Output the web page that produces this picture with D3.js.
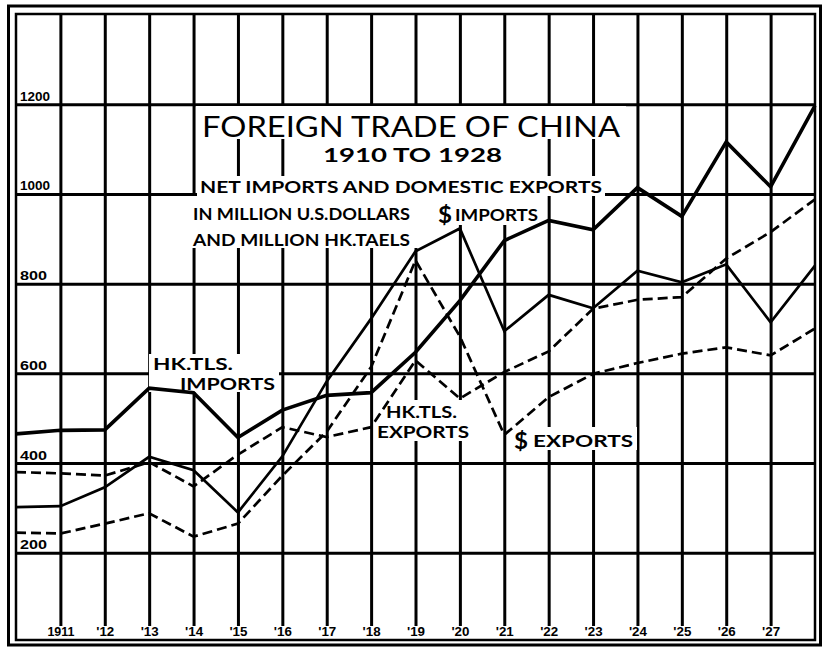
<!DOCTYPE html>
<html>
<head>
<meta charset="utf-8">
<script src="https://cdn.jsdelivr.net/npm/d3@7/dist/d3.min.js"></script>
<style>
  body { margin: 0; background: #fff; }
  svg { display: block; font-family: Lato, 'DejaVu Sans', sans-serif; }
</style>
</head>
<body>
<script>
// values, million HK taels / million US dollars
var years = [1910, 1911, 1912, 1913, 1914, 1915, 1916, 1917, 1918, 1919,
             1920, 1921, 1922, 1923, 1924, 1925, 1926, 1927, 1928];
var tickYears  = [1911, 1912, 1913, 1914, 1915, 1916, 1917, 1918, 1919,
                  1920, 1921, 1922, 1923, 1924, 1925, 1926, 1927];
var tickLabels = ['1911', "'12", "'13", "'14", "'15", "'16", "'17", "'18", "'19",
                  "'20", "'21", "'22", "'23", "'24", "'25", "'26", "'27"];
var valueTicks = [200, 400, 600, 800, 1000, 1200];

var hkImports = [465, 473, 474, 567, 557, 457, 518, 551, 557, 647,
                 762, 896, 941, 920, 1014, 950, 1116, 1016, 1197];
var usImports = [302, 304, 346, 414, 384, 290, 415, 582, 722, 872,
                 923, 694, 775, 745, 829, 803, 843, 714, 840];
var hkExports = [380, 377, 372, 402, 348, 419, 480, 458, 480, 629,
                 544, 603, 649, 744, 764, 770, 856, 915, 988];
var usExports = [245, 243, 265, 288, 236, 265, 372, 470, 614, 852,
                 682, 463, 547, 599, 623, 644, 658, 640, 700];

{ // INIT
  var width  = 822,
      height = 647;

  var inner = {left: 16, right: 815, top: 14, bottom: 640};

  var svg = d3.select('body').append('svg')
      .attr('width', width)
      .attr('height', height);

  svg.append('rect')
      .attr('width', width)
      .attr('height', height)
      .attr('fill', '#fff');

  var x = d3.scaleLinear().domain([1910, 1928]).range([inner.left, inner.right]);
  var y = d3.scaleLinear().domain([0, 1400]).range([642.5, 14.5]);

  // horizontal grid + value labels
  var yAxis = svg.append('g')
      .attr('transform', 'translate(' + inner.left + ',0)')
      .call(d3.axisLeft(y)
        .tickValues(valueTicks)
        .tickSize(-(inner.right - inner.left))
        .tickFormat(d3.format('d')));
  yAxis.select('.domain').remove();
  yAxis.selectAll('.tick line')
      .attr('stroke', '#000')
      .attr('stroke-width', 3);
  yAxis.selectAll('.tick text')
      .attr('x', 4)
      .attr('dy', -4)
      .attr('text-anchor', 'start')
      .attr('fill', '#000')
      .style('font-size', '13px')
      .style('font-weight', 'bold')
      .attr('textLength', function(d) { return String(d).length > 3 ? 30 : 27; })
      .attr('lengthAdjust', 'spacingAndGlyphs');

  // vertical grid + year labels
  var xAxis = svg.append('g')
      .attr('transform', 'translate(0,626)')
      .call(d3.axisBottom(x)
        .tickValues(tickYears)
        .tickSize(-(626 - inner.top))
        .tickPadding(1)
        .tickFormat(function(d, i) { return tickLabels[i]; }));
  xAxis.select('.domain').remove();
  xAxis.selectAll('.tick line')
      .attr('stroke', '#000')
      .attr('stroke-width', 3);
  xAxis.selectAll('.tick text')
      .attr('fill', '#000')
      .style('font-size', '12px')
      .style('font-weight', 'bold')
      .attr('textLength', function(d, i) { return tickLabels[i].length > 3 ? 27 : 18; })
      .attr('lengthAdjust', 'spacingAndGlyphs');

  // white patches behind the lettering
  var knockouts = [
    [196, 106, 626, 139],
    [290, 106, 541, 176],
    [197, 176, 605, 196],
    [189, 196, 541, 225],
    [189, 225, 418, 248],
    [149, 354, 279, 392],
    [374, 400, 472, 441],
    [511, 427, 637, 450]
  ];
  svg.selectAll('rect.knockout')
      .data(knockouts)
    .enter().append('rect')
      .attr('class', 'knockout')
      .attr('x', function(d) { return d[0]; })
      .attr('y', function(d) { return d[1]; })
      .attr('width', function(d) { return d[2] - d[0]; })
      .attr('height', function(d) { return d[3] - d[1]; })
      .attr('fill', '#fff');

  // series
  var series = [
    {values: hkImports, width: 3.6, dash: null},
    {values: usImports, width: 2.7, dash: null},
    {values: hkExports, width: 2.7, dash: '10,5'},
    {values: usExports, width: 2.7, dash: '10,5'}
  ];

  var line = d3.line()
      .x(function(d, i) { return x(years[i]); })
      .y(function(d) { return y(d); });

  svg.selectAll('path.series')
      .data(series)
    .enter().append('path')
      .attr('class', 'series')
      .attr('d', function(d) { return line(d.values); })
      .attr('fill', 'none')
      .attr('stroke', '#000')
      .attr('stroke-width', function(d) { return d.width; })
      .attr('stroke-dasharray', function(d) { return d.dash; })
      .attr('stroke-linejoin', 'miter');

  // lettering
  var labels = [
    {text: 'FOREIGN TRADE OF CHINA', x: 202, y: 137, size: 29, weight: 'normal', len: 418},
    {text: '1910 TO 1928', x: 323, y: 162, size: 18.5, weight: 'bold', len: 179},
    {text: 'NET IMPORTS AND DOMESTIC EXPORTS', x: 200, y: 193, size: 17, weight: 'bold', len: 402},
    {text: 'IN MILLION U.S.DOLLARS', x: 193, y: 220, size: 17, weight: 'bold', len: 217},
    {text: '$', x: 438, y: 223, size: 22, weight: 'bold', len: 14},
    {text: 'IMPORTS', x: 455, y: 221, size: 17, weight: 'bold', len: 83},
    {text: 'AND MILLION HK.TAELS', x: 193, y: 246, size: 17, weight: 'bold', len: 217},
    {text: 'HK.TLS.', x: 153, y: 370, size: 17, weight: 'bold', len: 80},
    {text: 'IMPORTS', x: 180, y: 390, size: 17, weight: 'bold', len: 95},
    {text: 'HK.TLS.', x: 386, y: 418, size: 17, weight: 'bold', len: 71},
    {text: 'EXPORTS', x: 377, y: 438, size: 17, weight: 'bold', len: 92},
    {text: '$', x: 514, y: 449, size: 22, weight: 'bold', len: 14},
    {text: 'EXPORTS', x: 533, y: 447, size: 17, weight: 'bold', len: 100}
  ];
  svg.selectAll('text.label')
      .data(labels)
    .enter().append('text')
      .attr('class', 'label')
      .attr('x', function(d) { return d.x; })
      .attr('y', function(d) { return d.y; })
      .attr('textLength', function(d) { return d.len; })
      .attr('lengthAdjust', 'spacingAndGlyphs')
      .style('font-size', function(d) { return d.size + 'px'; })
      .style('font-weight', function(d) { return d.weight; })
      .text(function(d) { return d.text; });

  // double frame
  svg.append('rect')
      .attr('x', inner.left)
      .attr('y', inner.top)
      .attr('width', inner.right - inner.left)
      .attr('height', inner.bottom - inner.top)
      .attr('fill', 'none')
      .attr('stroke', '#000')
      .attr('stroke-width', 2.5);
  svg.append('rect')
      .attr('x', 8.5)
      .attr('y', 6)
      .attr('width', 812)
      .attr('height', 639)
      .attr('fill', 'none')
      .attr('stroke', '#000')
      .attr('stroke-width', 3);
}
</script>
</body>
</html>
